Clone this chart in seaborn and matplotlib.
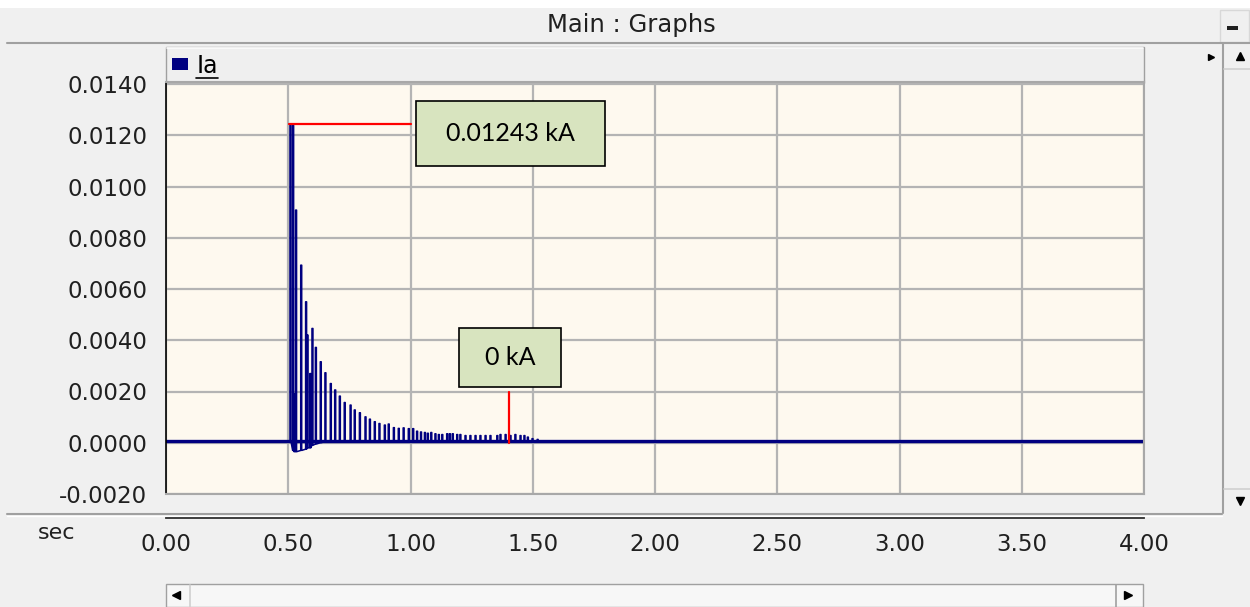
#!/usr/bin/env python

import matplotlib
matplotlib.use('Agg')
import matplotlib.pyplot as plt
import matplotlib.ticker as ticker
from matplotlib.patches import Rectangle
import pandas as pd
import seaborn as sns

# Ia trace (kA)
spike_times = [0.507, 0.518, 0.524, 0.530, 0.551, 0.571, 0.577, 0.588, 0.597, 0.611,
               0.631, 0.650, 0.672, 0.690, 0.709, 0.729, 0.753, 0.770, 0.791, 0.814,
               0.832, 0.852, 0.871, 0.893, 0.909, 0.930, 0.950, 0.970, 0.991, 1.009]
spike_peaks = [0.01243, 0.01238, 0.0019, 0.00908, 0.00693, 0.0055, 0.0042, 0.0027, 0.00446, 0.00372,
               0.00316, 0.00273, 0.00231, 0.00206, 0.00182, 0.00157, 0.00147, 0.00128, 0.00117, 0.00101,
               0.00092, 0.00082, 0.00075, 0.00069, 0.00073, 0.00059, 0.00056, 0.00058, 0.00055, 0.00055]
spike_bases = [0.00005, -0.0003, -0.00035, -0.00035, -0.0003, -0.00025, -0.0002, -0.0002, -0.0001, -0.00005,
               0.0, 0.00005, 0.00005, 0.00005, 0.00005, 0.00005, 0.00005, 0.00005, 0.00005, 0.00005,
               0.00005, 0.00005, 0.00005, 0.00005, 0.00005, 0.00005, 0.00005, 0.00005, 0.00005, 0.00005]
tail_times = [1.025, 1.041, 1.057, 1.069, 1.083, 1.100, 1.114, 1.128, 1.148, 1.159,
              1.171, 1.189, 1.202, 1.223, 1.243, 1.264, 1.284, 1.305, 1.325, 1.353,
              1.366, 1.387, 1.407, 1.427, 1.448, 1.464, 1.478, 1.497, 1.518]
tail_peaks = [0.00045, 0.00042, 0.0004, 0.00037, 0.0004, 0.00035, 0.00032, 0.00032, 0.00035, 0.00035,
              0.00035, 0.00032, 0.00032, 0.00028, 0.00028, 0.00028, 0.00028, 0.00028, 0.00028, 0.00028,
              0.00032, 0.00032, 0.00028, 0.00032, 0.00028, 0.00028, 0.00022, 0.00016, 0.00013]
baseline_level = 0.00005
t_start = 0.0
t_end = 4.0

x_ticks = [0.0, 0.5, 1.0, 1.5, 2.0, 2.5, 3.0, 3.5, 4.0]
y_ticks = [-0.002, 0.0, 0.002, 0.004, 0.006, 0.008, 0.010, 0.012, 0.014]

peak_time = 0.507
peak_value = 0.01243
peak_label = '0.01243 kA'
cursor_time = 1.403
cursor_label = '0 kA'

W, H = 1250, 607
NAVY = '#000080'
CHROME = '#f0f0f0'
EDGE = '#a0a0a0'
PULSE = 0.004  # width of one spike on screen, sec


def fig_rect(px_left, px_top, px_right, px_bottom):
    return [px_left / W, 1 - px_bottom / H, (px_right - px_left) / W, (px_bottom - px_top) / H]


def build_trace():
    xs, ys = [t_start], [baseline_level]
    for t, p, b in zip(spike_times, spike_peaks, spike_bases):
        xs += [t, t, t + PULSE, t + PULSE]
        ys += [b, p, p, b]
    for t, p in zip(tail_times, tail_peaks):
        xs += [t, t, t + PULSE, t + PULSE]
        ys += [baseline_level, p, p, baseline_level]
    xs.append(t_end)
    ys.append(baseline_level)
    return pd.DataFrame({'time': xs, 'Ia': ys})


def draw_chrome(bg):
    bg.set_xlim(0, W)
    bg.set_ylim(H, 0)
    bg.axis('off')
    box = lambda x0, y0, x1, y1, **kw: bg.add_patch(Rectangle((x0, y0), x1 - x0, y1 - y0, **kw))
    # title bar
    box(0, 0, W, 8, fc='white', ec='none')
    bg.plot([7, W], [43, 43], color=EDGE, lw=1.5)
    bg.text(631, 25, 'Main : Graphs', ha='center', va='center', fontsize=17.5, color='#202020')
    box(1220, 10, 1249, 42, fc=CHROME, ec='#d8d8d8', lw=1)
    box(1227, 26, 1238, 30, fc='#202020', ec='none')
    # legend strip
    box(166, 47, 1144, 83, fc='#efefef', ec=EDGE, lw=1)
    bg.plot([167, 1143], [48, 48], color='white', lw=1.2)
    box(172, 58, 188, 70, fc=NAVY, ec='none')
    bg.text(197, 66, 'Ia', ha='left', va='center', fontsize=17, color='black')
    bg.plot([196, 218], [78, 78], color='black', lw=1.2)
    bg.plot([1211], [57], marker='>', color='black', ms=5)
    # right scrollbar
    box(1222, 44, 1250, 513, fc=CHROME, ec='none')
    bg.plot([1223, 1223], [44, 513], color=EDGE, lw=1.5)
    bg.plot([1224, 1250], [69, 69], color='#d0d0d0', lw=1.2)
    bg.plot([1224, 1250], [489, 489], color='#d0d0d0', lw=1.2)
    bg.plot([1240], [56], marker='^', color='black', ms=6)
    bg.plot([1240], [501], marker='v', color='black', ms=6)
    # separator between plot and time axis
    bg.plot([7, 1222], [514, 514], color=EDGE, lw=1.5)
    bg.plot([7, 1222], [515.5, 515.5], color='white', lw=1)
    bg.text(57, 533, 'sec', ha='center', va='center', fontsize=16, color='#202020')
    # bottom scrollbar
    box(166, 584, 1143, 607, fc='#f7f7f7', ec=EDGE, lw=1)
    bg.plot([190, 190], [585, 607], color='#d0d0d0', lw=1.2)
    bg.plot([1116, 1116], [585, 607], color=EDGE, lw=1.2)
    bg.plot([176], [595], marker='<', color='black', ms=6)
    bg.plot([1128], [595], marker='>', color='black', ms=6)


def main():
    sns.set_style('white')
    plt.rcParams['font.family'] = ['DejaVu Sans']
    plt.rcParams['axes.unicode_minus'] = False

    data = build_trace()
    base = pd.DataFrame({'time': [t_start, t_end], 'Ia': [baseline_level, baseline_level]})

    fig = plt.figure(figsize=(W / 100, H / 100), dpi=100, facecolor=CHROME)

    bg = fig.add_axes([0, 0, 1, 1], zorder=0)
    draw_chrome(bg)

    ax = fig.add_axes(fig_rect(166, 82, 1144, 494), zorder=2)
    ax.set_facecolor('#fef9ef')
    sns.lineplot(data=base, x='time', y='Ia', ax=ax, color=NAVY, lw=2.4,
                 sort=False, estimator=None, legend=False)
    sns.lineplot(data=data, x='time', y='Ia', ax=ax, color=NAVY, lw=1.1,
                 sort=False, estimator=None, legend=False)

    ax.set_xlim(t_start, t_end)
    ax.set_ylim(-0.002, -0.002 + (494 - 82) / 51.25 * 0.002)
    ax.set_xticks(x_ticks)
    ax.set_yticks(y_ticks)
    ax.yaxis.set_major_formatter(ticker.FormatStrFormatter('%.4f'))
    ax.tick_params(axis='x', length=0, labelbottom=False)
    ax.tick_params(axis='y', direction='out', length=6.5, width=1, color='black',
                   pad=7, labelsize=16.5, labelcolor='#202020')
    ax.grid(True, color='#b4b4b4', lw=1.6)
    ax.set_axisbelow(True)
    ax.set_xlabel('')
    ax.set_ylabel('')
    for side in ['top', 'right', 'bottom']:
        ax.spines[side].set_color('#a8a8a8')
        ax.spines[side].set_linewidth(1.5)
    ax.spines['left'].set_color('black')
    ax.spines['left'].set_linewidth(1.2)

    # peak annotation
    ax.plot([peak_time - 0.005, 1.002], [peak_value, peak_value], color='red', lw=1.6, zorder=5)
    ax.add_patch(Rectangle((1.0225, 0.01081), 0.773, 0.00254, fc='#d8e4bf', ec='black', lw=1.2, zorder=6))
    ax.text(1.409, 0.01208, peak_label, ha='center', va='center', fontsize=18,
            family=['Lato', 'DejaVu Sans'], color='black', zorder=7)
    # cursor annotation
    ax.plot([cursor_time, cursor_time], [0.0, 0.00199], color='red', lw=1.6, zorder=5)
    ax.add_patch(Rectangle((1.198, 0.002185), 0.4175, 0.002303, fc='#d8e4bf', ec='black', lw=1.2, zorder=6))
    ax.text(1.407, 0.00334, cursor_label, ha='center', va='center', fontsize=18,
            family=['Lato', 'DejaVu Sans'], color='black', zorder=7)

    # time axis drawn below the plot
    ax_x = fig.add_axes(fig_rect(166, 517.5, 1144, 518), zorder=2)
    ax_x.set_facecolor('none')
    ax_x.set_xlim(t_start, t_end)
    ax_x.set_xticks(x_ticks)
    ax_x.xaxis.set_major_formatter(ticker.FormatStrFormatter('%.2f'))
    ax_x.set_yticks([])
    for side in ['top', 'left', 'right']:
        ax_x.spines[side].set_visible(False)
    ax_x.spines['bottom'].set_color('#303030')
    ax_x.spines['bottom'].set_linewidth(1.3)
    ax_x.tick_params(axis='x', direction='out', length=5.5, width=1.2, color='#303030',
                     pad=5, labelsize=16.5, labelcolor='#202020')

    fig.savefig('out.png', dpi=100, facecolor=CHROME)
    plt.close(fig)


if __name__ == '__main__':
    main()
